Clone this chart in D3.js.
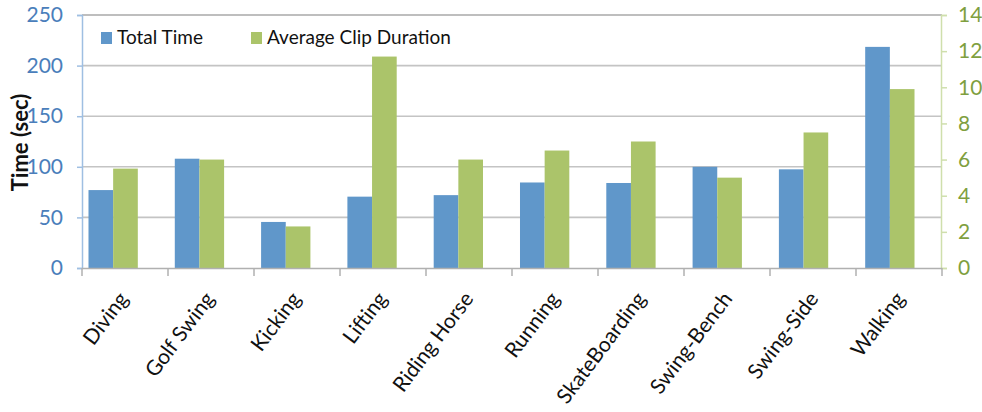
<!DOCTYPE html>
<html>
<head>
<meta charset="utf-8">
<script src="https://cdn.jsdelivr.net/npm/d3@7"></script>
<style>
  body { margin: 0; background: #fff; }
  svg text { font-family: Lato, "Open Sans", sans-serif; }
</style>
</head>
<body>
<svg id="chart" width="982" height="412"></svg>
<script>
const categories = ["Diving", "Golf Swing", "Kicking", "Lifting", "Riding Horse",
  "Running", "SkateBoarding", "Swing-Bench", "Swing-Side", "Walking"];
const totalTime = [77, 108, 45.5, 70.5, 72, 84.5, 84, 100, 97.5, 218.5];
const avgClip = [5.5, 6.0, 2.3, 11.7, 6.0, 6.5, 7.0, 5.0, 7.5, 9.9];
const leftTicks = [0, 50, 100, 150, 200, 250];
const rightTicks = [0, 2, 4, 6, 8, 10, 12, 14];
const seriesNames = ["Total Time", "Average Clip Duration"];
const colors = ["#6097ca", "#abc46a"];

const svg = d3.select("#chart");
const plot = { left: 82, right: 942, top: 15, bottom: 268 };

const yLeft = d3.scaleLinear().domain([0, 250]).range([plot.bottom, plot.top]);
const yRight = d3.scaleLinear().domain([0, 14]).range([plot.bottom, plot.top]);

// bars sit a bit left of the category tick marks, like the original
const x0 = d3.scaleBand().domain(categories).range([70, 933]);
const x1 = d3.scaleBand().domain(seriesNames).range([0, x0.bandwidth()])
  .paddingInner(0).paddingOuter(0.75);
const xTick = d3.scaleBand().domain(categories).range([plot.left, plot.right]);

// gridlines
svg.append("g")
  .selectAll("line")
  .data(leftTicks.filter(t => t > 0))
  .enter()
  .append("line")
  .attr("x1", plot.left)
  .attr("x2", plot.right)
  .attr("y1", d => yLeft(d))
  .attr("y2", d => yLeft(d))
  .attr("stroke", d => d === 250 ? "#a9a9a9" : "#c4c4c4")
  .attr("stroke-width", 1.6);

// bars
const rows = categories.map((c, i) => ({ cat: c, vals: [totalTime[i], avgClip[i]] }));
const groups = svg.append("g")
  .selectAll("g")
  .data(rows)
  .enter()
  .append("g")
  .attr("transform", d => `translate(${x0(d.cat)},0)`);

groups.selectAll("rect")
  .data(d => d.vals.map((v, k) => ({ k, v })))
  .enter()
  .append("rect")
  .attr("x", d => x1(seriesNames[d.k]))
  .attr("width", x1.bandwidth())
  .attr("y", d => d.k === 0 ? yLeft(d.v) : yRight(d.v))
  .attr("height", d => plot.bottom - (d.k === 0 ? yLeft(d.v) : yRight(d.v)))
  .attr("fill", d => colors[d.k]);

// left axis
const leftAxis = svg.append("g")
  .attr("transform", `translate(${plot.left},0)`)
  .call(d3.axisLeft(yLeft).tickValues(leftTicks).tickSize(5).tickPadding(14));
leftAxis.select(".domain").attr("stroke", "#9fbfe2").attr("stroke-width", 1.5);
leftAxis.selectAll(".tick line").attr("stroke", "#9fbfe2").attr("stroke-width", 1.5);
leftAxis.selectAll("text")
  .attr("fill", "#4a7ebb")
  .style("font-size", "21px");

// right axis
const rightAxis = svg.append("g")
  .attr("transform", `translate(${plot.right - 1},0)`)
  .call(d3.axisRight(yRight).tickValues(rightTicks).tickSize(6).tickPadding(11));
rightAxis.select(".domain").attr("stroke", "#cfdfac").attr("stroke-width", 1.5);
rightAxis.selectAll(".tick line").attr("stroke", "#cfdfac").attr("stroke-width", 1.5);
rightAxis.selectAll("text")
  .attr("fill", "#7f9f3f")
  .style("font-size", "21px");

// bottom axis
const bottom = svg.append("g");
bottom.append("line")
  .attr("x1", plot.left).attr("x2", plot.right)
  .attr("y1", plot.bottom + 0.5).attr("y2", plot.bottom + 0.5)
  .attr("stroke", "#b0b0b0").attr("stroke-width", 1.5);
bottom.selectAll(".ctick")
  .data(categories.concat(["end"]))
  .enter()
  .append("line")
  .attr("class", "ctick")
  .attr("x1", (d, i) => plot.left + i * xTick.step())
  .attr("x2", (d, i) => plot.left + i * xTick.step())
  .attr("y1", plot.bottom)
  .attr("y2", plot.bottom + 8)
  .attr("stroke", "#b0b0b0")
  .attr("stroke-width", 1.5);

bottom.selectAll(".clabel")
  .data(categories)
  .enter()
  .append("text")
  .attr("class", "clabel")
  .attr("text-anchor", "end")
  .attr("transform", d => `translate(${x0(d) + x0.bandwidth() / 2 + 16},${plot.bottom + 31}) rotate(-53)`)
  .attr("fill", "#111")
  .style("font-size", "21px")
  .text(d => d);

// y title
svg.append("text")
  .attr("transform", `translate(28,${(plot.top + plot.bottom) / 2 + 1}) rotate(-90)`)
  .attr("text-anchor", "middle")
  .style("font-size", "22px")
  .style("font-weight", "bold")
  .attr("fill", "#111")
  .text("Time (sec)");

// legend
const legendX = [101, 251];
const legend = svg.append("g")
  .selectAll("g")
  .data(seriesNames)
  .enter()
  .append("g")
  .attr("transform", (d, i) => `translate(${legendX[i]},32)`);
legend.append("rect")
  .attr("width", 11).attr("height", 12)
  .attr("fill", (d, i) => colors[i]);
legend.append("text")
  .attr("x", 16).attr("y", 12)
  .style("font-size", "19px")
  .attr("fill", "#111")
  .text(d => d);
</script>
</body>
</html>
